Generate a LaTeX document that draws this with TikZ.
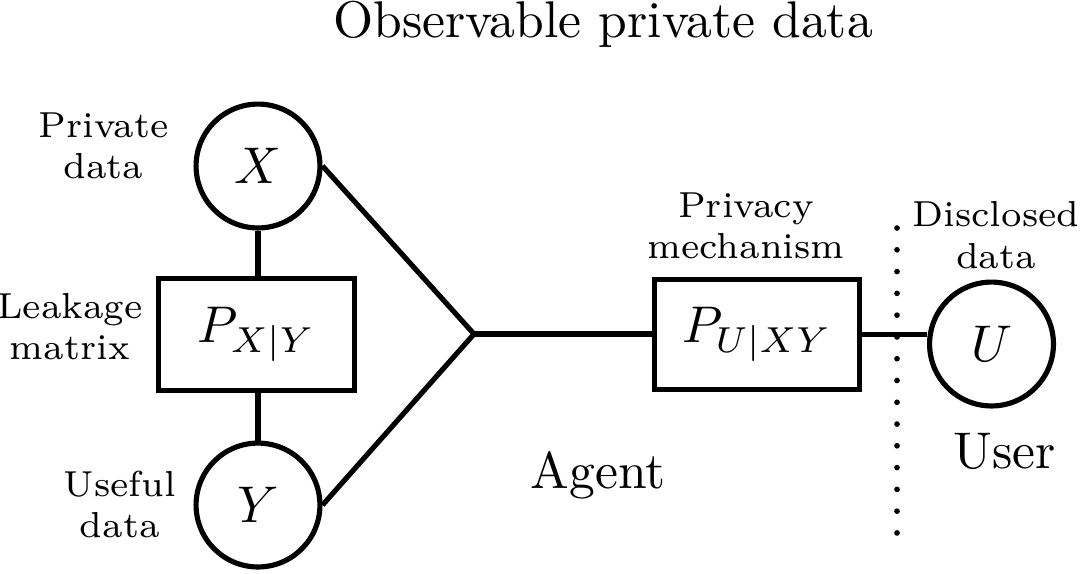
\documentclass[tikz,border=0pt]{standalone}
\usetikzlibrary{positioning}
\begin{document}
\begin{tikzpicture}[x=0.19375pt,y=-0.19375pt,
  every path/.style={line width=1pt},
  circ/.style={draw,circle,minimum size=24pt,inner sep=0pt,font=\normalsize},
  matbox/.style={draw,rectangle,inner sep=0pt,font=\normalsize},
  lab/.style={align=center,inner sep=0pt,font=\scriptsize},
  biglab/.style={inner sep=0pt,anchor=base,font=\normalsize},
  dots/.style={line width=1.1pt,line cap=round,dash pattern=on 0pt off 4.22pt}]
\useasboundingbox (0,0) rectangle (1083,573);
% nodes
\node[circ] (X) at (258,166) {$X$};
\node[circ] (Y) at (258,505) {$Y$};
\node[matbox,minimum width=38pt,minimum height=21.7pt] (PXY) at (256.5,334.5) {$P_{X|Y}$};
\node[matbox,minimum width=39.7pt,minimum height=21.3pt] (PU) at (757,334.5) {$P_{U|XY}$};
\node[circ] (U) at (991.5,344) {$U$};
\coordinate (apex) at (474,334);
\coordinate (dtop) at (897,228);
\coordinate (dbot) at (897,533);
% labels
\node[biglab] (title) at (603,37) {Observable private data};
\node[lab] (lpriv) at (103.5,146) {Private\\data};
\node[lab] (lleak) at (70,326.5) {Leakage\\matrix};
\node[lab] (luse) at (120,504.5) {Useful\\data};
\node[lab] (lmech) at (746,226) {Privacy\\mechanism};
\node[lab] (ldisc) at (996,235) {Disclosed\\data};
\node[biglab] (agent) at (598,488) {Agent};
\node[biglab] (user) at (1005,468) {User};
% connectors
\draw (X.south) -- (X.south |- PXY.north);
\draw (PXY.south -| Y.north) -- (Y.north);
\draw (X.east) -- (apex) -- (Y.east);
\draw (apex) -- (apex -| PU.west);
\draw (PU.east) -- (PU.east -| U.west);
\draw[dots] (dtop) -- (dbot);
\end{tikzpicture}
\end{document}
